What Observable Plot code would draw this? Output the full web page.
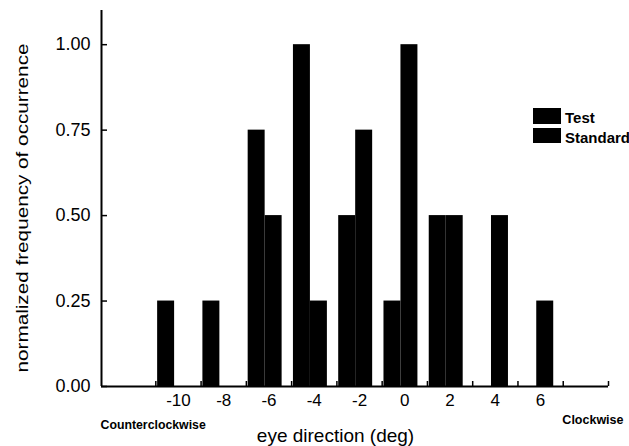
<!DOCTYPE html>
<html>
<head>
<meta charset="utf-8">
<script src="https://cdn.jsdelivr.net/npm/d3@7"></script>
<script src="https://cdn.jsdelivr.net/npm/@observablehq/plot@0.6"></script>
<style>
  html, body { margin: 0; padding: 0; background: white; overflow: hidden; }
  #wrap { position: relative; width: 629px; height: 446px; overflow: hidden; font-family: "Liberation Sans", Arial, sans-serif; }
  .legend { position: absolute; left: 533px; top: 108px; }
  .row { position: relative; height: 20px; }
  .sw { position: absolute; left: 0; width: 28px; background: #000; }
  .lab { position: absolute; left: 32px; font-size: 15px; font-weight: bold; white-space: nowrap; color: #000; line-height: 18px; }
</style>
</head>
<body>
<div id="wrap"></div>
<script>
// ---- data ----
const directions = [-10, -8, -6, -4, -2, 0, 2, 4, 6];
const test       = [0.25, 0.25, 0.75, 1.00, 0.50, 0.25, 0.50, 0.00, 0.00];
const standard   = [0.00, 0.00, 0.50, 0.25, 0.75, 1.00, 0.50, 0.50, 0.25];
const seriesNames = ["Test", "Standard"];
const xTickLabels = [-10, -8, -6, -4, -2, 0, 2, 4, 6];
const minorTicks = [-11, -9, -7, -5, -3, -1, 1, 3, 5, 7, 9];
const yTicks = [0, 0.25, 0.5, 0.75, 1.0];
const xDomain = [-13.4, 9];
const yDomain = [0, 1.1];

const rows = directions.flatMap((d, i) => [
  {d, series: seriesNames[0], value: test[i]},
  {d, series: seriesNames[1], value: standard[i]}
]);

const barW = 0.75;
const offset = r => r.series === "Test" ? -0.92 : -0.17;

const W = 629, H = 446, mL = 101, mR = 21, mT = 10, mB = 60;
const plotW = W - mL - mR, plotH = H - mT - mB;

const chart = Plot.plot({
  width: W, height: H,
  marginLeft: mL, marginRight: mR, marginTop: mT, marginBottom: mB,
  x: {domain: xDomain},
  y: {domain: yDomain},
  style: {fontFamily: "'Liberation Sans', Arial, sans-serif", background: "white", color: "black"},
  marks: [
    Plot.tickX(minorTicks, {x: d => d, stroke: "black", strokeWidth: 1.5, insetTop: plotH - 5}),
    Plot.rect(rows.filter(r => r.value > 0), {
      x1: r => r.d + offset(r),
      x2: r => r.d + offset(r) + barW,
      y1: 0, y2: "value", fill: "black"
    }),
    Plot.ruleY([0], {stroke: "black", strokeWidth: 2}),
    Plot.ruleX([xDomain[0]], {stroke: "black", strokeWidth: 2}),
    Plot.tickY(yTicks, {y: d => d, stroke: "black", strokeWidth: 1.5, insetRight: plotW - 6}),
    Plot.axisY({ticks: yTicks, tickSize: 0, tickPadding: 11, tickFormat: d3.format(".2f"), fontSize: 18, stroke: "black", strokeWidth: 0.4, label: null}),
    Plot.axisX({ticks: xTickLabels, tickSize: 0, tickPadding: 7, tickFormat: d => String(d), fontSize: 17, stroke: "black", strokeWidth: 0.4, label: null}),
    Plot.text(["eye direction (deg)"], {text: d => d, frameAnchor: "bottom", dx: -19.5, dy: 55, lineAnchor: "bottom", fontSize: 19}),
    Plot.text(["Counterclockwise"], {text: d => d, frameAnchor: "bottom-left", textAnchor: "start", dx: -1, dy: 42, lineAnchor: "bottom", fontSize: 12.3, fontWeight: "bold"}),
    Plot.text(["Clockwise"], {text: d => d, frameAnchor: "bottom-right", textAnchor: "end", dx: 15, dy: 37, lineAnchor: "bottom", fontSize: 12.5, fontWeight: "bold"}),
    Plot.text(["normalized frequency of occurrence"], {text: d => d, frameAnchor: "left", rotate: -90, textAnchor: "start", dx: -74, dy: (372 - (mT + plotH / 2)), lineAnchor: "bottom", fontSize: 16})
  ]
});

// stretch the y title to match the reference length
chart.querySelectorAll("text").forEach(t => {
  if (t.textContent === "normalized frequency of occurrence") {
    t.setAttribute("textLength", "329");
    t.setAttribute("lengthAdjust", "spacingAndGlyphs");
  }
});

const wrap = document.getElementById("wrap");
wrap.appendChild(chart);

// legend (both series drawn in black, as in the reference)
const legend = document.createElement("div");
legend.className = "legend";
legend.innerHTML =
  `<div class="row"><div class="sw" style="top:0;height:16px"></div><div class="lab" style="top:1px">${seriesNames[0]}</div></div>` +
  `<div class="row"><div class="sw" style="top:0;height:15px"></div><div class="lab" style="top:1px">${seriesNames[1]}</div></div>`;
wrap.appendChild(legend);
</script>
</body>
</html>
